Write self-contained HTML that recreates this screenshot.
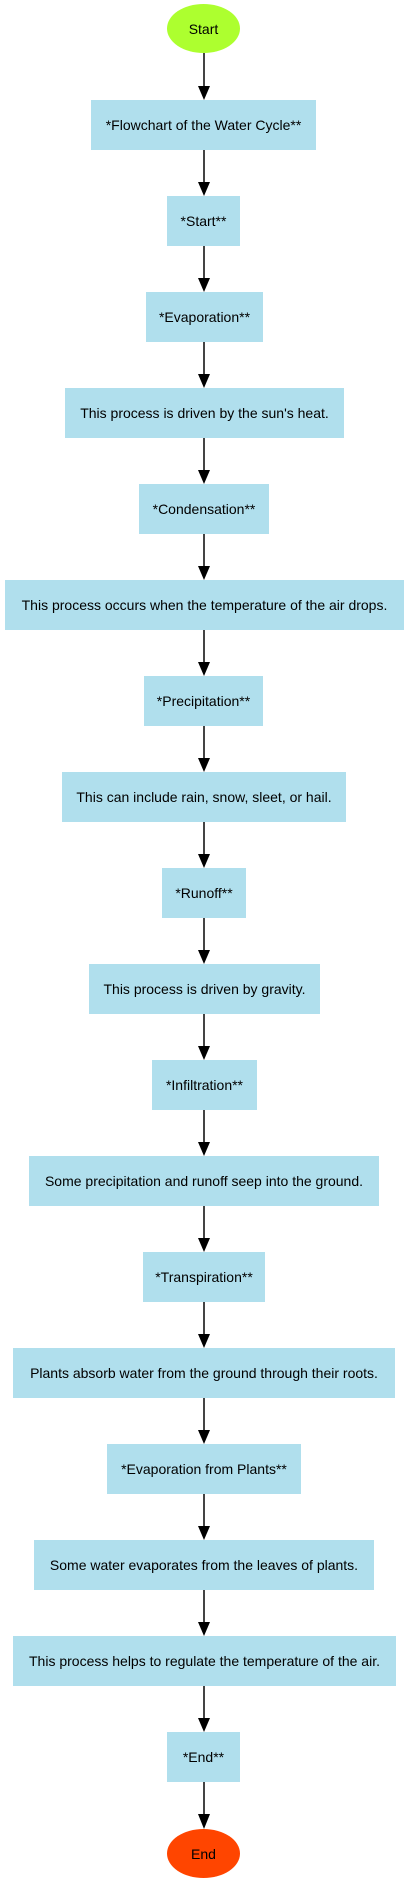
<!DOCTYPE html>
<html><head><meta charset="utf-8"><style>
html,body{margin:0;padding:0;background:#fff;}
body{width:408px;height:1883px;position:relative;overflow:hidden;font-family:"Liberation Sans",Arial,sans-serif;}
.b{position:absolute;height:50px;background:#b0dfed;display:flex;align-items:center;justify-content:center;font-size:14px;color:#000;white-space:nowrap;}
.e{position:absolute;left:167px;width:73px;height:49px;border-radius:50%;display:flex;align-items:center;justify-content:center;font-size:14px;color:#000;}
svg{position:absolute;left:0;top:0;}
</style></head><body>
<div class="e" style="top:4px;background:#adff2f;">Start</div>
<div class="b" style="top:100px;left:91px;width:225px;">*Flowchart of the Water Cycle**</div>
<div class="b" style="top:196px;left:167px;width:73px;">*Start**</div>
<div class="b" style="top:292px;left:146px;width:117px;">*Evaporation**</div>
<div class="b" style="top:388px;left:65px;width:279px;">This process is driven by the sun's heat.</div>
<div class="b" style="top:484px;left:139px;width:130px;">*Condensation**</div>
<div class="b" style="top:580px;left:5px;width:399px;">This process occurs when the temperature of the air drops.</div>
<div class="b" style="top:676px;left:144px;width:119px;">*Precipitation**</div>
<div class="b" style="top:772px;left:62px;width:284px;">This can include rain, snow, sleet, or hail.</div>
<div class="b" style="top:868px;left:162px;width:84px;">*Runoff**</div>
<div class="b" style="top:964px;left:89px;width:231px;">This process is driven by gravity.</div>
<div class="b" style="top:1060px;left:152px;width:105px;">*Infiltration**</div>
<div class="b" style="top:1156px;left:29px;width:350px;">Some precipitation and runoff seep into the ground.</div>
<div class="b" style="top:1252px;left:143px;width:122px;">*Transpiration**</div>
<div class="b" style="top:1348px;left:13px;width:382px;">Plants absorb water from the ground through their roots.</div>
<div class="b" style="top:1444px;left:107px;width:194px;">*Evaporation from Plants**</div>
<div class="b" style="top:1540px;left:34px;width:340px;">Some water evaporates from the leaves of plants.</div>
<div class="b" style="top:1636px;left:13px;width:383px;">This process helps to regulate the temperature of the air.</div>
<div class="b" style="top:1732px;left:167px;width:73px;">*End**</div>
<div class="e" style="top:1829px;background:#ff4500;">End</div>
<svg width="408" height="1883">
<g stroke="#444" stroke-width="2">
<line x1="204" y1="53" x2="204" y2="88"/>
<line x1="204" y1="150" x2="204" y2="184"/><line x1="204" y1="246" x2="204" y2="280"/>
<line x1="204" y1="342" x2="204" y2="376"/><line x1="204" y1="438" x2="204" y2="472"/>
<line x1="204" y1="534" x2="204" y2="568"/><line x1="204" y1="630" x2="204" y2="664"/>
<line x1="204" y1="726" x2="204" y2="760"/><line x1="204" y1="822" x2="204" y2="856"/>
<line x1="204" y1="918" x2="204" y2="952"/><line x1="204" y1="1014" x2="204" y2="1048"/>
<line x1="204" y1="1110" x2="204" y2="1144"/><line x1="204" y1="1206" x2="204" y2="1240"/>
<line x1="204" y1="1302" x2="204" y2="1336"/><line x1="204" y1="1398" x2="204" y2="1432"/>
<line x1="204" y1="1494" x2="204" y2="1528"/><line x1="204" y1="1590" x2="204" y2="1624"/>
<line x1="204" y1="1686" x2="204" y2="1720"/><line x1="204" y1="1782" x2="204" y2="1816"/>
</g>
<g fill="#000">
<polygon points="198,86 210,86 204,100"/>
<polygon points="198,182 210,182 204,196"/><polygon points="198,278 210,278 204,292"/>
<polygon points="198,374 210,374 204,388"/><polygon points="198,470 210,470 204,484"/>
<polygon points="198,566 210,566 204,580"/><polygon points="198,662 210,662 204,676"/>
<polygon points="198,758 210,758 204,772"/><polygon points="198,854 210,854 204,868"/>
<polygon points="198,950 210,950 204,964"/><polygon points="198,1046 210,1046 204,1060"/>
<polygon points="198,1142 210,1142 204,1156"/><polygon points="198,1238 210,1238 204,1252"/>
<polygon points="198,1334 210,1334 204,1348"/><polygon points="198,1430 210,1430 204,1444"/>
<polygon points="198,1526 210,1526 204,1540"/><polygon points="198,1622 210,1622 204,1636"/>
<polygon points="198,1718 210,1718 204,1732"/><polygon points="198,1814 210,1814 204,1829"/>
</g>
</svg>
</body></html>
